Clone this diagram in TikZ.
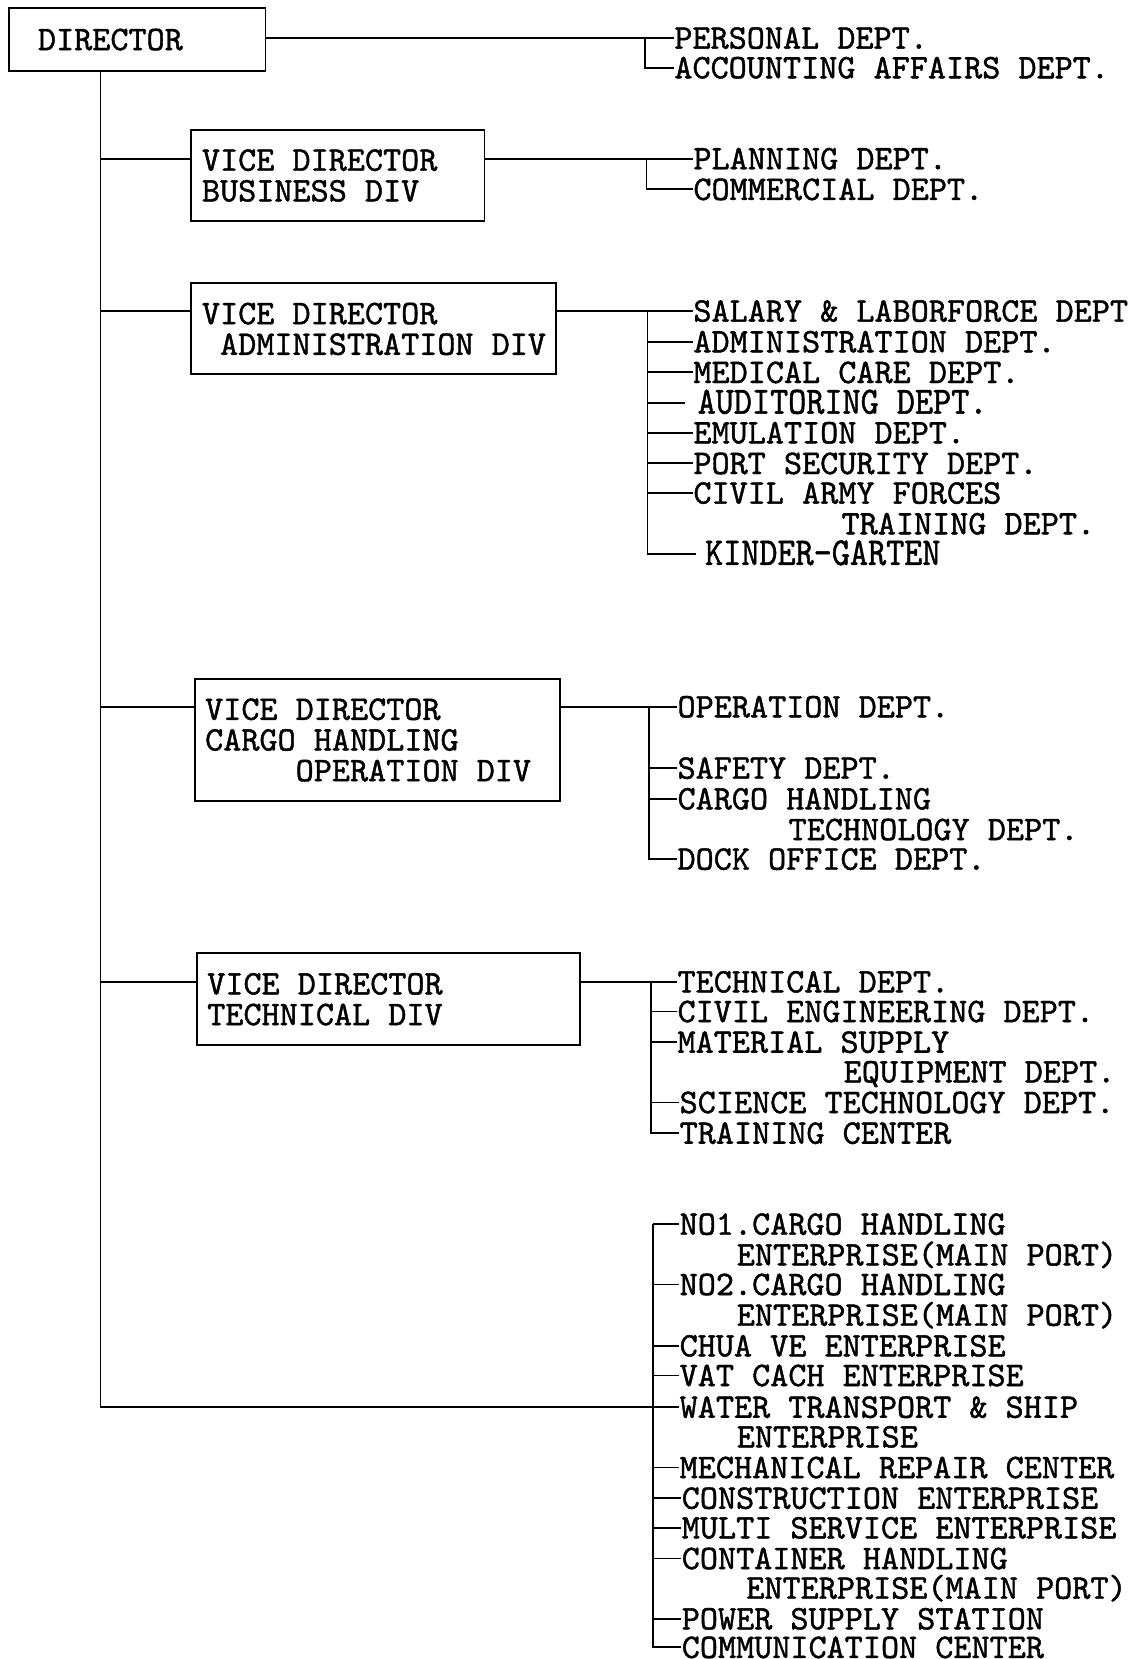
\documentclass[tikz,border=0pt]{standalone}
\usepackage{fontspec}
\setmonofont{lmmono10-regular}[Extension=.otf, FakeBold=1.2]
\usetikzlibrary{calc}
\begin{document}
\begin{tikzpicture}[x=0.5pt,y=-0.5pt,
  every node/.style={font=\ttfamily\fontsize{16.3pt}{14.5pt}\selectfont},
  box/.style={draw, line width=0.9pt, anchor=north west, align=left, inner ysep=0pt, inner xsep=5pt,
    execute at begin node={\spaceskip=0pt\xspaceskip=0pt\relax}},
  item/.style={anchor=west, inner sep=0pt, text height=10pt, text depth=0pt},
  conn/.style={line width=0.9pt}]
\useasboundingbox[fill=white] (0,0) rectangle (1076,1568);
% boxes
\node[box, text width=94pt, inner xsep=13.5pt, minimum height=29.5pt] (dir) at (8,7) {DIRECTOR};
\node[box, text width=128.5pt, minimum height=43pt] (vbus) at (180,122) {\mbox{VICE DIRECTOR}\\\mbox{BUSINESS DIV}};
\node[box, text width=162.5pt, minimum height=43pt] (vadm) at (180,267) {\mbox{VICE DIRECTOR}\\\mbox{~ADMINISTRATION DIV}};
\node[box, text width=162.5pt, minimum height=57.5pt] (vcar) at (183,641) {\mbox{VICE DIRECTOR}\\\mbox{CARGO HANDLING}\\\mbox{~~~~~OPERATION DIV}};
\node[box, text width=171pt, minimum height=43.5pt] (vtec) at (185,900) {\mbox{VICE DIRECTOR}\\\mbox{TECHNICAL DIV}};
% items
\node[item] (p1) at (637,36) {PERSONAL DEPT.};
\node[item] (p2) at (637,64) {ACCOUNTING AFFAIRS DEPT.};
\node[item] (b1) at (655,150) {PLANNING DEPT.};
\node[item] (b2) at (655,179) {COMMERCIAL DEPT.};
\node[item] (a1) at (655,294) {SALARY \& LABORFORCE DEPT};
\node[item] (a2) at (655,323) {ADMINISTRATION DEPT.};
\node[item] (a3) at (655,352) {MEDICAL CARE DEPT.};
\node[item, inner xsep=6pt] (a4) at (647,381) {\scalebox{1}[1.12]{AUDITORING DEPT.}};
\node[item] (a5) at (655,409) {EMULATION DEPT.};
\node[item] (a6) at (655,438) {PORT SECURITY DEPT.};
\node[item] (a7) at (655,466) {CIVIL ARMY FORCES};
\node[item] (a7b) at (795,495) {TRAINING DEPT.};
\node[item, inner xsep=4pt] (a8) at (658,524) {\scalebox{1}[1.15]{KINDER-GARTEN}};
\node[item] (c1) at (640,668) {OPERATION DEPT.};
\node[item] (c2) at (640,726) {SAFETY DEPT.};
\node[item] (c3) at (640,755) {CARGO HANDLING};
\node[item] (c3b) at (745,784) {TECHNOLOGY DEPT.};
\node[item] (c4) at (640,812) {DOCK OFFICE DEPT.};
\node[item] (t1) at (640,928) {TECHNICAL DEPT.};
\node[item] (t2) at (640,956) {CIVIL ENGINEERING DEPT.};
\node[item] (t3) at (640,985) {MATERIAL SUPPLY};
\node[item] (t3b) at (797,1013) {EQUIPMENT DEPT.};
\node[item] (t4) at (642,1042) {SCIENCE TECHNOLOGY DEPT.};
\node[item] (t5) at (642,1071) {TRAINING CENTER};
\node[item] (e1) at (642,1157) {NO1.CARGO HANDLING};
\node[item] (e1b) at (696,1186) {ENTERPRISE(MAIN PORT)};
\node[item] (e2) at (642,1214) {NO2.CARGO HANDLING};
\node[item] (e2b) at (696,1243) {ENTERPRISE(MAIN PORT)};
\node[item] (e3) at (642,1272) {CHUA VE ENTERPRISE};
\node[item] (e4) at (642,1300) {VAT CACH ENTERPRISE};
\node[item] (e5) at (642,1330) {WATER TRANSPORT \& SHIP};
\node[item] (e5b) at (696,1358) {ENTERPRISE};
\node[item] (e6) at (642,1387) {MECHANICAL REPAIR CENTER};
\node[item] (e7) at (644,1416) {CONSTRUCTION ENTERPRISE};
\node[item] (e8) at (644,1444) {MULTI SERVICE ENTERPRISE};
\node[item] (e9) at (644,1473) {CONTAINER HANDLING};
\node[item] (e9b) at (705,1501) {ENTERPRISE(MAIN PORT)};
\node[item] (e10) at (644,1530) {POWER SUPPLY STATION};
\node[item] (e11) at (644,1557) {COMMUNICATION CENTER};
% bracket coordinates
\coordinate (bP) at (610,36);
\coordinate (bB) at (611,150);
\coordinate (bA) at (612,294);
\coordinate (bC) at (613,668);
\coordinate (bT) at (615,928);
\coordinate (bE) at (617,1157);
\path (dir.south west) ++(87,0) coordinate (tk);
% trunk
\draw[conn] (tk) |- (vbus.west |- b1.west);
\draw[conn] (tk) |- (vadm.west |- a1.west);
\draw[conn] (tk) |- (vcar.west |- c1.west);
\draw[conn] (tk) |- (vtec.west |- t1.west);
\draw[conn] (tk) |- (e5.west);
% director group
\draw[conn] (dir.east |- p1.west) -- (p1.west);
\draw[conn] (bP) |- (p2.west);
% business
\draw[conn] (vbus.east |- b1.west) -- (b1.west);
\draw[conn] (bB) |- (b2.west);
% admin
\draw[conn] (vadm.east |- a1.west) -- (a1.west);
\foreach \n in {a2,a3,a4,a5,a6,a7,a8} \draw[conn] (bA) |- (\n.west);
% cargo
\draw[conn] (vcar.east |- c1.west) -- (c1.west);
\foreach \n in {c2,c3,c4} \draw[conn] (bC) |- (\n.west);
% technical
\draw[conn] (vtec.east |- t1.west) -- (t1.west);
\foreach \n in {t2,t3,t4,t5} \draw[conn] (bT) |- (\n.west);
% enterprises
\draw[conn] (bE) -- (e1.west);
\foreach \n in {e2,e3,e4,e5,e6,e7,e8,e9,e10,e11} \draw[conn] (bE) |- (\n.west);
\end{tikzpicture}
\end{document}
